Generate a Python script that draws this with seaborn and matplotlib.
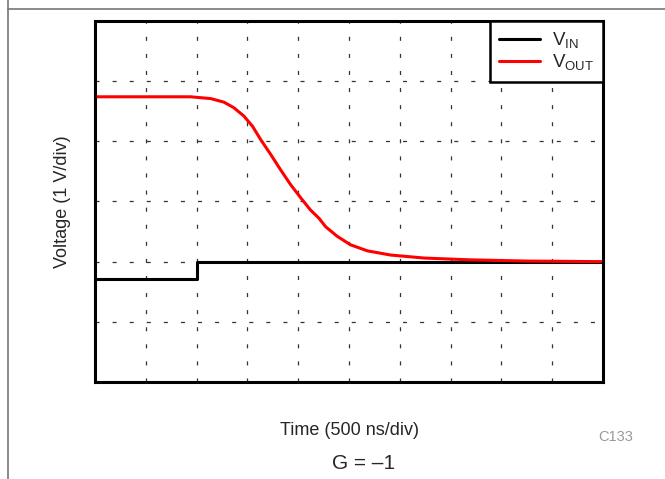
import matplotlib.pyplot as plt
import matplotlib.lines as mlines
import seaborn as sns
import pandas as pd

# Input step (time in ns, voltage in V, 500 ns/div, 1 V/div)
t_in = [0, 1000, 1000, 5000]
v_in = [1.71, 1.71, 2.0, 2.0]

# Output response
t_out = [0, 940, 1140, 1270, 1365, 1465, 1550, 1630, 1730, 1825, 1925, 2025,
         2120, 2205, 2270, 2385, 2515, 2680, 2910, 3240, 3695, 4250, 5000]
v_out = [4.74, 4.74, 4.71, 4.65, 4.56, 4.42, 4.25, 4.03, 3.78, 3.53, 3.28, 3.06,
         2.86, 2.72, 2.58, 2.42, 2.28, 2.18, 2.11, 2.06, 2.03, 2.01, 2.00]

df = pd.concat([
    pd.DataFrame({'t': t_in, 'v': v_in, 'sig': 'V$_{IN}$'}),
    pd.DataFrame({'t': t_out, 'v': v_out, 'sig': 'V$_{OUT}$'}),
])

sns.set_style('white')
plt.rcParams['font.family'] = ['Liberation Sans', 'DejaVu Sans']
plt.rcParams['mathtext.default'] = 'regular'
plt.rcParams['lines.scale_dashes'] = False

fig = plt.figure(figsize=(6.65, 4.79), dpi=100)
ax = fig.add_axes([0.1429, 0.2025, 0.9068 - 0.1429, 0.9562 - 0.2025])

sns.lineplot(data=df, x='t', y='v', hue='sig', palette=['black', '#ff0000'],
             linewidth=2.2, estimator=None, sort=False, ax=ax)

ax.set_xlim(0, 5000)
ax.set_ylim(0, 6)
ax.set_xticks(range(0, 5001, 500))
ax.set_yticks(range(0, 7))
ax.tick_params(length=0, labelbottom=False, labelleft=False)
ax.grid(True, color='#333333', linewidth=0.9, linestyle=(0, (2.9, 9.4)))
for s in ax.spines.values():
    s.set_linewidth(2.2)
    s.set_color('black')

ax.set_xlabel('Time (500 ns/div)', fontsize=13, labelpad=29)
ax.set_ylabel('Voltage (1 V/div)', fontsize=13, labelpad=17)

leg = ax.legend(loc='upper right', fontsize=13.5, frameon=True, fancybox=False,
                framealpha=1, borderaxespad=0, handlelength=2.2, borderpad=0.5,
                labelspacing=0.1, handletextpad=0.6)
leg.get_frame().set_edgecolor('black')
leg.get_frame().set_linewidth(1.8)
leg.set_title(None)

fig.text(0.926, 0.088, 'C133', fontsize=10.5, color='#999999', ha='center', va='center')
fig.text(0.547, 0.033, 'G = \u20131', fontsize=15, ha='center', va='center')

# page border lines
fig.add_artist(mlines.Line2D([0.012, 1], [0.981, 0.981], color='#777777', lw=1.2))
fig.add_artist(mlines.Line2D([0.012, 0.012], [0, 1], color='#777777', lw=1.2))

fig.savefig('out.png', dpi=100)
